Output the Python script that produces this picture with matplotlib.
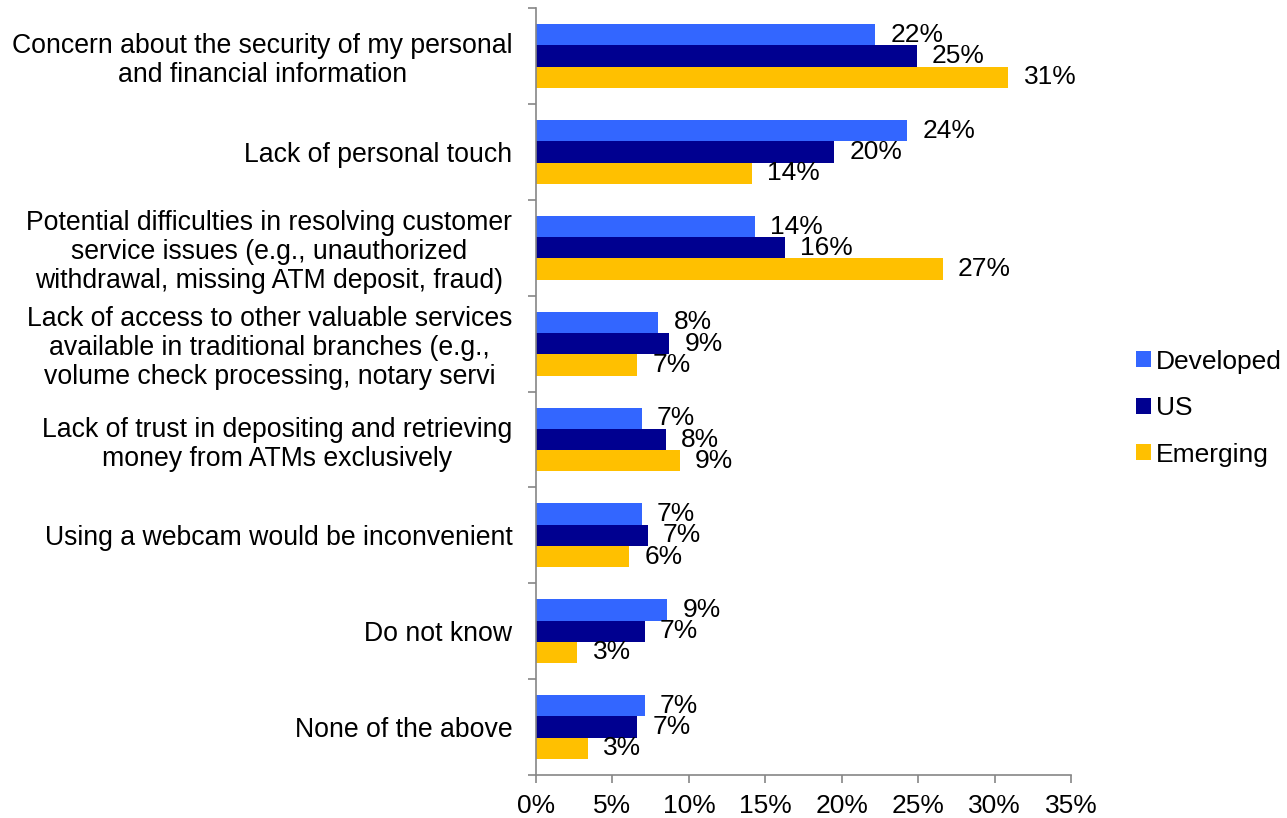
import matplotlib
matplotlib.use("Agg")
import matplotlib.pyplot as plt
import numpy as np

plt.rcParams['font.family'] = ['Liberation Sans', 'DejaVu Sans']

# categories, top to bottom
categories = [
    "Concern about the security of my personal\nand financial information",
    "Lack of personal touch",
    "Potential difficulties in resolving customer\nservice issues (e.g., unauthorized\nwithdrawal, missing ATM deposit, fraud)",
    "Lack of access to other valuable services\navailable in traditional branches (e.g.,\nvolume check processing, notary servi",
    "Lack of trust in depositing and retrieving\nmoney from ATMs exclusively",
    "Using a webcam would be inconvenient",
    "Do not know",
    "None of the above",
]

# share of respondents (%)
developed = [22.2, 24.3, 14.3, 8.0, 6.9, 6.9, 8.6, 7.1]
us = [24.9, 19.5, 16.3, 8.7, 8.5, 7.3, 7.1, 6.6]
emerging = [30.9, 14.1, 26.6, 6.6, 9.4, 6.1, 2.7, 3.4]

series = [("Developed", developed, "#3366FF"),
          ("US", us, "#000090"),
          ("Emerging", emerging, "#FFC000")]

fig = plt.figure(figsize=(12.87, 8.18), dpi=100)
ax = fig.add_axes([0.4165, 0.0526, 0.4157, 0.9374])

n = len(categories)
y = np.arange(n)
h = 0.222

for i, (name, vals, col) in enumerate(series):
    pos = y - h + i * h
    ax.barh(pos, vals, height=h, color=col, label=name)
    for p, v in zip(pos, vals):
        ax.annotate("{:.0f}%".format(v), (v, p), xytext=(11, 0),
                    textcoords="offset points", va="center", ha="left",
                    fontsize=19)

ax.set_ylim(n - 0.5, -0.5)
ax.set_xlim(0, 35)
ax.set_xticks(np.arange(0, 36, 5))
ax.set_xticklabels(["{}%".format(t) for t in range(0, 36, 5)], fontsize=19)

# category labels at centres, tick marks on group boundaries
ax.set_yticks(y)
ax.set_yticklabels(categories, fontsize=19.2, multialignment="center",
                   linespacing=1.15)
ax.tick_params(axis="y", length=0, pad=17)
ax.set_yticks(np.arange(n + 1) - 0.5, minor=True)
ax.tick_params(axis="y", which="minor", length=6, color="#868686", width=1.2)
ax.tick_params(axis="x", length=6, color="#868686", width=1.2, pad=8)

for s in ["top", "right"]:
    ax.spines[s].set_visible(False)
for s in ["left", "bottom"]:
    ax.spines[s].set_color("#868686")
    ax.spines[s].set_linewidth(1.2)

fig.legend(loc="center left", bbox_to_anchor=(0.8827, 0.501), frameon=False,
           fontsize=19, handlelength=0.55, handleheight=0.55, handletextpad=0.2,
           labelspacing=0.85, borderpad=0, borderaxespad=0)

fig.savefig("out.png", dpi=100)
